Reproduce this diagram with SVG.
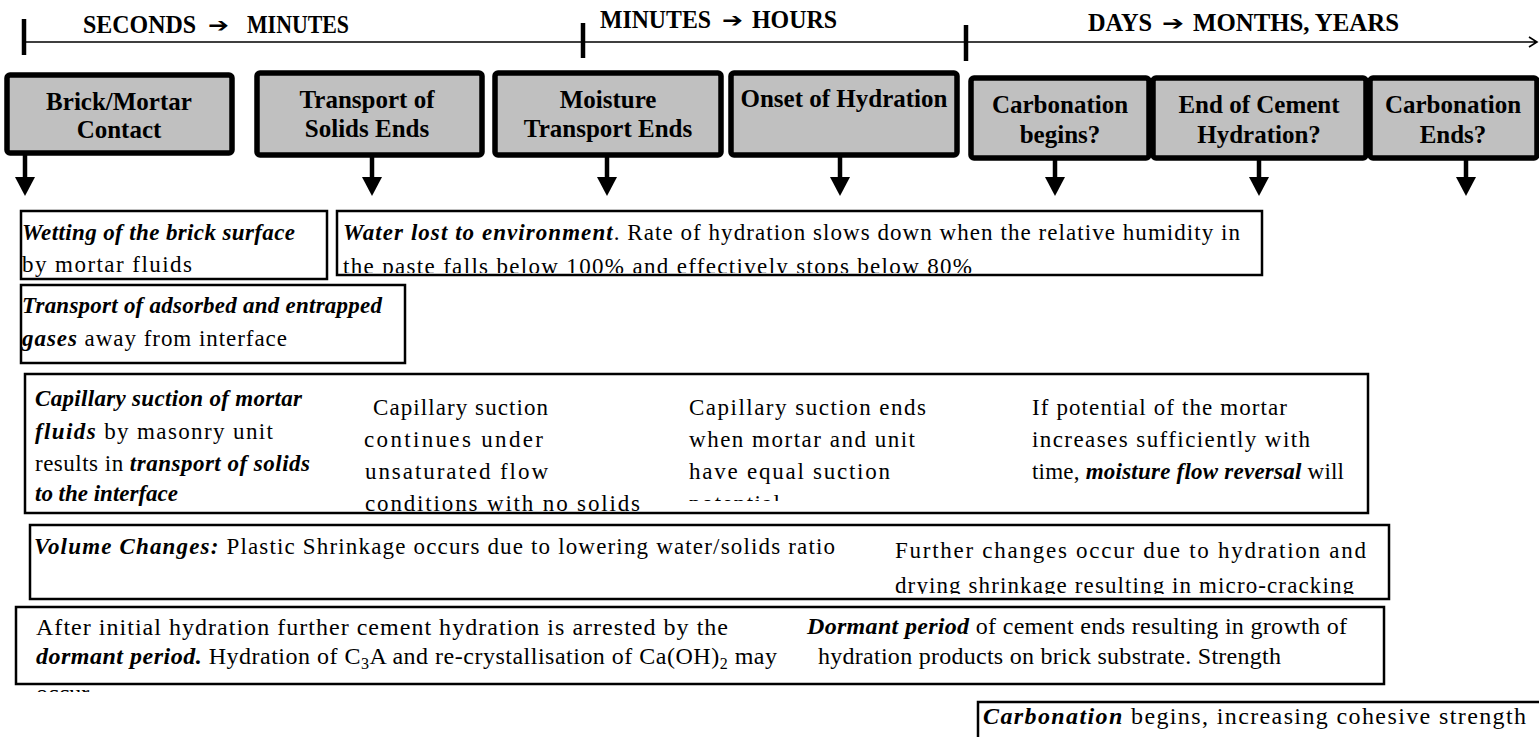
<svg xmlns="http://www.w3.org/2000/svg" width="1539" height="737" viewBox="0 0 1539 737">
<style>
.hdr{font-family:"Liberation Serif",serif;font-weight:bold;font-size:25.5px;fill:#000}
.ar{font-family:"DejaVu Sans",sans-serif;font-weight:bold;font-size:20px;fill:#000}
.lbl{font-family:"Liberation Serif",serif;font-weight:bold;font-size:25px;text-anchor:middle;fill:#000}
.node{fill:#c0c0c0;stroke:#000;stroke-width:5.5}
.box{fill:#fff;stroke:#000;stroke-width:2.5}
.t{font-family:"Liberation Serif",serif;font-size:23px;fill:#000}
.t2{font-family:"Liberation Serif",serif;font-size:24px;fill:#000}
.bi{font-weight:bold;font-style:italic}
.tick{stroke:#000;stroke-width:4.5}
.axis{stroke:#000;stroke-width:1.6;fill:none}
.down{stroke:#000;stroke-width:4.5;fill:none}
.h{stroke:#000;stroke-width:2}
</style>
<defs>
<marker id="dn" markerUnits="userSpaceOnUse" viewBox="0 0 20 20" refX="1" refY="10" markerWidth="20" markerHeight="20" orient="auto">
<path d="M0,0 L19,10 L0,20 z" fill="#000"/>
</marker>
<marker id="hd" markerUnits="userSpaceOnUse" viewBox="0 0 16 10" refX="1" refY="5" markerWidth="16" markerHeight="10" orient="auto">
<path d="M0,0.5 L16,5 L0,9.5 z" fill="#000"/>
</marker>
<clipPath id="cB"><rect x="337" y="211" width="925" height="62"/></clipPath>
<clipPath id="cC2"><rect x="340" y="380" width="300" height="132"/></clipPath>
<clipPath id="cC3"><rect x="680" y="380" width="280" height="121"/></clipPath>
<clipPath id="cE"><rect x="30" y="525" width="1359" height="69"/></clipPath>
<clipPath id="cF"><rect x="15" y="607" width="1369" height="85"/></clipPath>
</defs>

<g id="timeline">
<path class="axis" d="M22,42 H1537 M1529,37 L1537,42 L1529,47"/>
<line class="tick" x1="24" y1="19" x2="24" y2="55"/>
<line class="tick" x1="583" y1="23" x2="583" y2="58"/>
<line class="tick" x1="966" y1="25" x2="966" y2="61"/>
<text class="hdr" x="83" y="33" textLength="113" lengthAdjust="spacingAndGlyphs">SECONDS</text>
<text class="ar" x="208" y="32" textLength="21" lengthAdjust="spacingAndGlyphs">➔</text>
<text class="hdr" x="247" y="33" textLength="102" lengthAdjust="spacingAndGlyphs">MINUTES</text>
<text class="hdr" x="600" y="28" textLength="111" lengthAdjust="spacingAndGlyphs">MINUTES</text>
<text class="ar" x="722" y="27" textLength="21" lengthAdjust="spacingAndGlyphs">➔</text>
<text class="hdr" x="752" y="28" textLength="85" lengthAdjust="spacingAndGlyphs">HOURS</text>
<text class="hdr" x="1088" y="31" textLength="64" lengthAdjust="spacingAndGlyphs">DAYS</text>
<text class="ar" x="1162" y="30" textLength="22" lengthAdjust="spacingAndGlyphs">➔</text>
<text class="hdr" x="1193" y="31" textLength="206" lengthAdjust="spacingAndGlyphs">MONTHS, YEARS</text>
</g>

<g id="n1"><rect class="node" x="7" y="75" width="225" height="78" rx="3"/>
<text class="lbl" x="119" y="110">Brick/Mortar</text><text class="lbl" x="119" y="138">Contact</text></g>
<g id="n2"><rect class="node" x="257" y="73" width="225" height="82" rx="3"/>
<text class="lbl" x="367" y="108">Transport of</text><text class="lbl" x="367" y="137">Solids Ends</text></g>
<g id="n3"><rect class="node" x="495" y="73" width="226" height="82" rx="3"/>
<text class="lbl" x="608" y="108">Moisture</text><text class="lbl" x="608" y="137">Transport Ends</text></g>
<g id="n4"><rect class="node" x="731" y="73" width="226" height="82" rx="3"/>
<text class="lbl" x="844" y="107">Onset of Hydration</text></g>
<g id="n5"><rect class="node" x="971" y="78" width="178" height="80" rx="3"/>
<text class="lbl" x="1060" y="113">Carbonation</text><text class="lbl" x="1060" y="143">begins?</text></g>
<g id="n6"><rect class="node" x="1153" y="78" width="213" height="80" rx="3"/>
<text class="lbl" x="1259" y="113">End of Cement</text><text class="lbl" x="1259" y="143">Hydration?</text></g>
<g id="n7"><rect class="node" x="1370" y="78" width="167" height="80" rx="3"/>
<text class="lbl" x="1453" y="113">Carbonation</text><text class="lbl" x="1453" y="143">Ends?</text></g>

<g id="connectors">
<line class="down" x1="25" y1="153" x2="25" y2="178" marker-end="url(#dn)"/>
<line class="down" x1="372" y1="155" x2="372" y2="178" marker-end="url(#dn)"/>
<line class="down" x1="607" y1="155" x2="607" y2="178" marker-end="url(#dn)"/>
<line class="down" x1="840" y1="155" x2="840" y2="178" marker-end="url(#dn)"/>
<line class="down" x1="1055" y1="158" x2="1055" y2="178" marker-end="url(#dn)"/>
<line class="down" x1="1259" y1="158" x2="1259" y2="178" marker-end="url(#dn)"/>
<line class="down" x1="1466" y1="158" x2="1466" y2="178" marker-end="url(#dn)"/>
<line class="h" x1="317" y1="447" x2="348" y2="447" marker-end="url(#hd)"/>
<line class="h" x1="623" y1="446" x2="659" y2="446" marker-end="url(#hd)"/>
<line class="h" x1="967" y1="446" x2="999" y2="446" marker-end="url(#hd)"/>
<line class="h" x1="823" y1="565" x2="854" y2="565" marker-end="url(#hd)"/>
<line class="h" x1="767" y1="643" x2="788" y2="643" marker-end="url(#hd)"/>
</g>

<g id="bA"><rect class="box" x="21" y="211" width="306" height="68"/>
<text class="t" x="22" y="240" textLength="273" lengthAdjust="spacing"><tspan class="bi">Wetting of the brick surface</tspan></text>
<text class="t" x="22" y="272" textLength="170" lengthAdjust="spacing">by mortar fluids</text></g>

<g id="bB"><rect class="box" x="337" y="211" width="925" height="64"/>
<g clip-path="url(#cB)">
<text class="t" x="343" y="240" textLength="897" lengthAdjust="spacing"><tspan class="bi">Water lost to environment</tspan>. Rate of hydration slows down when the relative humidity in</text>
<text class="t" x="343" y="274" textLength="629" lengthAdjust="spacing">the paste falls below 100% and effectively stops below 80%</text>
</g></g>

<g id="bC"><rect class="box" x="21" y="285" width="384" height="78"/>
<text class="t" x="22" y="313" textLength="360" lengthAdjust="spacing"><tspan class="bi">Transport of adsorbed and entrapped</tspan></text>
<text class="t" x="22" y="346" textLength="265" lengthAdjust="spacing"><tspan class="bi">gases</tspan> away from interface</text></g>

<g id="bD"><rect class="box" x="25" y="374" width="1343" height="139"/>
<text class="t" x="35" y="406" textLength="267" lengthAdjust="spacing"><tspan class="bi">Capillary suction of mortar</tspan></text>
<text class="t" x="35" y="439" textLength="238" lengthAdjust="spacing"><tspan class="bi">fluids</tspan> by masonry unit</text>
<text class="t" x="35" y="471" textLength="275" lengthAdjust="spacing">results in <tspan class="bi">transport of solids</tspan></text>
<text class="t" x="35" y="501" textLength="143" lengthAdjust="spacing"><tspan class="bi">to the interface</tspan></text>
<g clip-path="url(#cC2)">
<text class="t" x="373" y="415" textLength="175" lengthAdjust="spacing">Capillary suction</text>
<text class="t" x="364" y="447" textLength="179" lengthAdjust="spacing">continues under</text>
<text class="t" x="365" y="479" textLength="183" lengthAdjust="spacing">unsaturated flow</text>
<text class="t" x="365" y="511" textLength="275" lengthAdjust="spacing">conditions with no solids</text>
</g>
<g clip-path="url(#cC3)">
<text class="t" x="689" y="415" textLength="237" lengthAdjust="spacing">Capillary suction ends</text>
<text class="t" x="689" y="447" textLength="226" lengthAdjust="spacing">when mortar and unit</text>
<text class="t" x="689" y="479" textLength="201" lengthAdjust="spacing">have equal suction</text>
<text class="t" x="689" y="511" textLength="91" lengthAdjust="spacing">potential</text>
</g>
<text class="t" x="1032" y="415" textLength="255" lengthAdjust="spacing">If potential of the mortar</text>
<text class="t" x="1032" y="447" textLength="278" lengthAdjust="spacing">increases sufficiently with</text>
<text class="t" x="1032" y="479" textLength="312" lengthAdjust="spacing">time, <tspan class="bi">moisture flow reversal</tspan> will</text>
</g>

<g id="bE"><rect class="box" x="30" y="525" width="1359" height="74"/>
<text class="t" x="34" y="554" textLength="801" lengthAdjust="spacing"><tspan class="bi">Volume Changes:</tspan> Plastic Shrinkage occurs due to lowering water/solids ratio</text>
<text class="t" x="895" y="558" textLength="471" lengthAdjust="spacing">Further changes occur due to hydration and</text>
<g clip-path="url(#cE)">
<text class="t" x="895" y="593" textLength="459" lengthAdjust="spacing">drying shrinkage resulting in micro-cracking</text>
</g></g>

<g id="bF"><rect class="box" x="16" y="607" width="1368" height="77"/>
<text class="t2" x="36" y="635" textLength="692" lengthAdjust="spacing">After initial hydration further cement hydration is arrested by the</text>
<text class="t2" x="36" y="664" textLength="741" lengthAdjust="spacing"><tspan class="bi">dormant period.</tspan> Hydration of C<tspan font-size="16" dy="5">3</tspan><tspan dy="-5">A and re-crystallisation of Ca(OH)</tspan><tspan font-size="16" dy="5">2</tspan><tspan dy="-5"> may</tspan></text>
<g clip-path="url(#cF)"><text class="t2" x="36" y="701">occur.</text></g>
<text class="t2" x="807" y="634" textLength="540" lengthAdjust="spacing"><tspan class="bi">Dormant period</tspan> of cement ends resulting in growth of</text>
<text class="t2" x="818" y="664" textLength="463" lengthAdjust="spacing">hydration products on brick substrate. Strength</text>
</g>

<g id="bG"><rect class="box" x="978" y="702" width="570" height="50"/>
<text class="t2" x="983" y="724" textLength="543" lengthAdjust="spacing"><tspan class="bi">Carbonation</tspan> begins, increasing cohesive strength</text>
</g>
</svg>
